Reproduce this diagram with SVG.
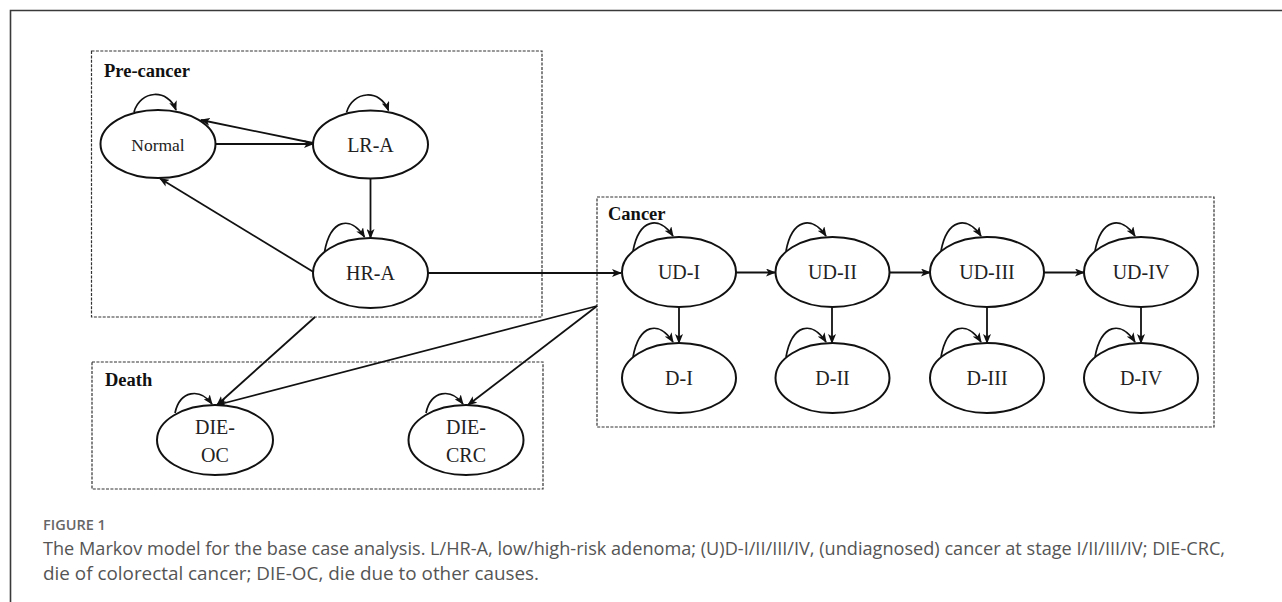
<svg xmlns="http://www.w3.org/2000/svg" width="1282" height="602" viewBox="0 0 1282 602">
<defs>
<marker id="ah" markerUnits="userSpaceOnUse" markerWidth="10" markerHeight="8" refX="9" refY="4" orient="auto">
<path d="M0,0 L10,4 L0,8 L2.5,4 z" fill="#111"/>
</marker>
<style>
.box{fill:none;stroke:#333;stroke-width:1.2;stroke-dasharray:3 1.4}
.grp{font-family:"Liberation Serif","Times New Roman",serif;font-weight:bold;font-size:18.5px;fill:#111}
.node ellipse{fill:#fff;stroke:#111;stroke-width:2}
.node text{font-family:"Liberation Serif","Times New Roman",serif;font-size:20px;fill:#222;text-anchor:middle}
.loop{fill:none;stroke:#111;stroke-width:1.7;marker-end:url(#ah)}
.edge{fill:none;stroke:#111;stroke-width:1.8;marker-end:url(#ah)}
.cap{font-family:"Open Sans","Noto Sans",sans-serif;fill:#555}
</style>
</defs>
<rect width="1282" height="602" fill="#fff"/>
<path d="M10.5,602 V10.5 H1282" fill="none" stroke="#3a3a3a" stroke-width="1.6"/>

<g id="groups">
<rect class="box" x="91.5" y="51" width="450.5" height="266"/>
<text class="grp" x="104" y="77">Pre-cancer</text>
<rect class="box" x="597" y="197" width="617" height="230"/>
<text class="grp" x="608" y="220">Cancer</text>
<rect class="box" x="92" y="362" width="451" height="127"/>
<text class="grp" x="105" y="386">Death</text>
</g>

<g id="connectors">
<!-- self loops -->
<path class="loop" d="M134,112 C140,90 168,88 176,110"/>
<path class="loop" d="M346.5,112.5 C352.5,90.5 380.5,88.5 388.5,110.5"/>
<path class="loop" d="M324.5,252 C330.5,219 350.5,215 364.5,237"/>
<path class="loop" d="M633,251 C639,219 659,215 673,236"/>
<path class="loop" d="M786,251 C792,219 812,215 826,236"/>
<path class="loop" d="M941,251 C947,219 967,215 981,236"/>
<path class="loop" d="M1095,251 C1101,219 1121,215 1135,236"/>
<path class="loop" d="M633,357 C639,324 659,320 673,342"/>
<path class="loop" d="M786,357 C792,324 812,320 826,342"/>
<path class="loop" d="M941,357 C947,324 967,320 981,342"/>
<path class="loop" d="M1095,357 C1101,324 1121,320 1135,342"/>
<path class="loop" d="M175,413 C180,390 200,388 212,404"/>
<path class="loop" d="M426,413 C431,390 451,388 463,404"/>
<!-- transitions -->
<path class="edge" d="M215.5,144 H313"/>
<path class="edge" d="M313,143 L201,120"/>
<path class="edge" d="M370.5,179 V238"/>
<path class="edge" d="M313.5,272 L160,178.5"/>
<path class="edge" d="M428,273 H621"/>
<path class="edge" d="M736,272.5 H775"/>
<path class="edge" d="M889,272.5 H930"/>
<path class="edge" d="M1044,272.5 H1084"/>
<path class="edge" d="M679,307 V343"/>
<path class="edge" d="M832,307 V343"/>
<path class="edge" d="M987,307 V343"/>
<path class="edge" d="M1141,307 V343"/>
<path class="edge" d="M315,317 L217,405"/>
<path class="edge" d="M597,306 L217,405"/>
<path class="edge" d="M597,306 L468,405"/>
</g>

<g id="n-normal" class="node"><ellipse cx="158" cy="144" rx="57.5" ry="34"/><text x="158" y="150.5" style="font-size:17.5px">Normal</text></g>
<g id="n-lra" class="node"><ellipse cx="370.5" cy="144.5" rx="57.5" ry="34"/><text x="370.5" y="151.5">LR-A</text></g>
<g id="n-hra" class="node"><ellipse cx="370.5" cy="273" rx="57.5" ry="35"/><text x="370.5" y="280">HR-A</text></g>
<g id="n-ud1" class="node"><ellipse cx="679" cy="272" rx="57" ry="35"/><text x="679" y="279">UD-I</text></g>
<g id="n-ud2" class="node"><ellipse cx="832.5" cy="272" rx="57" ry="35"/><text x="832.5" y="279">UD-II</text></g>
<g id="n-ud3" class="node"><ellipse cx="987" cy="272" rx="57" ry="35"/><text x="987" y="279">UD-III</text></g>
<g id="n-ud4" class="node"><ellipse cx="1141" cy="272" rx="57" ry="35"/><text x="1141" y="279">UD-IV</text></g>
<g id="n-d1" class="node"><ellipse cx="679" cy="378" rx="57" ry="35"/><text x="679" y="385">D-I</text></g>
<g id="n-d2" class="node"><ellipse cx="832.5" cy="378" rx="57" ry="35"/><text x="832.5" y="385">D-II</text></g>
<g id="n-d3" class="node"><ellipse cx="987" cy="378" rx="57" ry="35"/><text x="987" y="385">D-III</text></g>
<g id="n-d4" class="node"><ellipse cx="1141" cy="378" rx="57" ry="35"/><text x="1141" y="385">D-IV</text></g>
<g id="n-dieoc" class="node"><ellipse cx="215" cy="440" rx="58" ry="35"/><text x="215" y="434">DIE-</text><text x="215" y="462">OC</text></g>
<g id="n-diecrc" class="node"><ellipse cx="466" cy="440" rx="57.5" ry="35"/><text x="466" y="434">DIE-</text><text x="466" y="462">CRC</text></g>

<g id="caption">
<text class="cap" x="43" y="530" style="font-size:14.5px;font-weight:600;fill:#666">FIGURE 1</text>
<text class="cap" x="43" y="555" style="font-size:18px" textLength="1182" lengthAdjust="spacingAndGlyphs">The Markov model for the base case analysis. L/HR-A, low/high-risk adenoma; (U)D-I/II/III/IV, (undiagnosed) cancer at stage I/II/III/IV; DIE-CRC,</text>
<text class="cap" x="43" y="580" style="font-size:18px" textLength="496" lengthAdjust="spacingAndGlyphs">die of colorectal cancer; DIE-OC, die due to other causes.</text>
</g>
</svg>
